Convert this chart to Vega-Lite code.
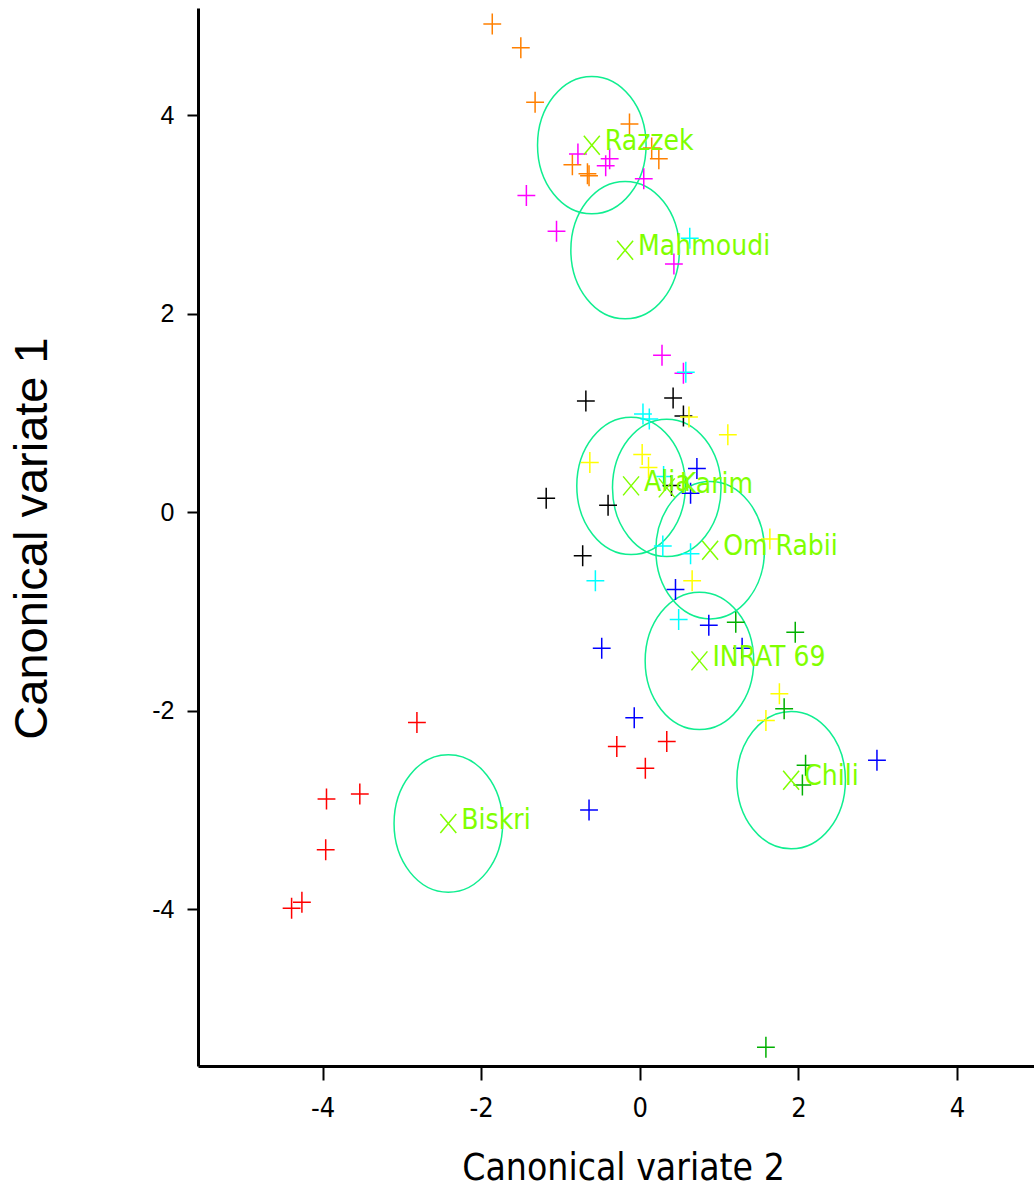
{
  "$schema": "https://vega.github.io/schema/vega-lite/v6.json",
  "width": 836,
  "height": 1058,
  "autosize": {"type": "none"},
  "padding": {"left": 198, "top": 8, "right": 0, "bottom": 125},
  "background": "white",
  "config": {"view": {"stroke": null}},
  "datasets": {
    "points": [
      {"group": "Razzek", "cv2": -1.86, "cv1": 4.92},
      {"group": "Razzek", "cv2": -1.50, "cv1": 4.68},
      {"group": "Razzek", "cv2": -1.32, "cv1": 4.13},
      {"group": "Razzek", "cv2": -0.13, "cv1": 3.91},
      {"group": "Razzek", "cv2": 0.15, "cv1": 3.67},
      {"group": "Razzek", "cv2": 0.24, "cv1": 3.56},
      {"group": "Razzek", "cv2": -0.85, "cv1": 3.50},
      {"group": "Razzek", "cv2": -0.66, "cv1": 3.41},
      {"group": "Razzek", "cv2": -0.64, "cv1": 3.39},
      {"group": "Mahmoudi", "cv2": -0.78, "cv1": 3.61},
      {"group": "Mahmoudi", "cv2": -0.38, "cv1": 3.56},
      {"group": "Mahmoudi", "cv2": -0.43, "cv1": 3.49},
      {"group": "Mahmoudi", "cv2": 0.05, "cv1": 3.36},
      {"group": "Mahmoudi", "cv2": -1.43, "cv1": 3.19},
      {"group": "Mahmoudi", "cv2": -1.05, "cv1": 2.83},
      {"group": "Mahmoudi", "cv2": 0.43, "cv1": 2.50},
      {"group": "Mahmoudi", "cv2": 0.28, "cv1": 1.58},
      {"group": "Mahmoudi", "cv2": 0.55, "cv1": 1.40},
      {"group": "Karim", "cv2": 0.63, "cv1": 2.76},
      {"group": "Karim", "cv2": 0.58, "cv1": 1.41},
      {"group": "Karim", "cv2": 0.04, "cv1": 0.99},
      {"group": "Karim", "cv2": 0.12, "cv1": 0.94},
      {"group": "Karim", "cv2": 0.30, "cv1": 0.36},
      {"group": "Karim", "cv2": 0.29, "cv1": -0.34},
      {"group": "Karim", "cv2": 0.64, "cv1": -0.42},
      {"group": "Karim", "cv2": -0.56, "cv1": -0.69},
      {"group": "Karim", "cv2": 0.49, "cv1": -1.08},
      {"group": "Alia", "cv2": -0.68, "cv1": 1.12},
      {"group": "Alia", "cv2": 0.42, "cv1": 1.15},
      {"group": "Alia", "cv2": 0.55, "cv1": 0.97},
      {"group": "Alia", "cv2": -1.18, "cv1": 0.14},
      {"group": "Alia", "cv2": -0.40, "cv1": 0.07},
      {"group": "Alia", "cv2": 0.40, "cv1": 0.27},
      {"group": "Alia", "cv2": -0.72, "cv1": -0.44},
      {"group": "Om Rabii", "cv2": 0.62, "cv1": 0.96},
      {"group": "Om Rabii", "cv2": 1.11, "cv1": 0.78},
      {"group": "Om Rabii", "cv2": -0.63, "cv1": 0.50},
      {"group": "Om Rabii", "cv2": 0.03, "cv1": 0.58},
      {"group": "Om Rabii", "cv2": 0.11, "cv1": 0.45},
      {"group": "Om Rabii", "cv2": 1.64, "cv1": -0.27},
      {"group": "Om Rabii", "cv2": 0.66, "cv1": -0.69},
      {"group": "Om Rabii", "cv2": 1.76, "cv1": -1.83},
      {"group": "Om Rabii", "cv2": 1.59, "cv1": -2.10},
      {"group": "INRAT 69", "cv2": 0.72, "cv1": 0.44},
      {"group": "INRAT 69", "cv2": 0.64, "cv1": 0.19},
      {"group": "INRAT 69", "cv2": 0.45, "cv1": -0.78},
      {"group": "INRAT 69", "cv2": 0.87, "cv1": -1.14},
      {"group": "INRAT 69", "cv2": -0.48, "cv1": -1.37},
      {"group": "INRAT 69", "cv2": 1.29, "cv1": -1.37},
      {"group": "INRAT 69", "cv2": -0.07, "cv1": -2.07},
      {"group": "INRAT 69", "cv2": -0.64, "cv1": -3.00},
      {"group": "INRAT 69", "cv2": 2.99, "cv1": -2.50},
      {"group": "Chili", "cv2": 1.21, "cv1": -1.11},
      {"group": "Chili", "cv2": 1.96, "cv1": -1.21},
      {"group": "Chili", "cv2": 1.82, "cv1": -1.98},
      {"group": "Chili", "cv2": 2.09, "cv1": -2.55},
      {"group": "Chili", "cv2": 2.05, "cv1": -2.75},
      {"group": "Chili", "cv2": 1.59, "cv1": -5.39},
      {"group": "Biskri", "cv2": -0.29, "cv1": -2.36},
      {"group": "Biskri", "cv2": 0.34, "cv1": -2.31},
      {"group": "Biskri", "cv2": 0.07, "cv1": -2.58},
      {"group": "Biskri", "cv2": -2.81, "cv1": -2.12},
      {"group": "Biskri", "cv2": -3.95, "cv1": -2.89},
      {"group": "Biskri", "cv2": -3.53, "cv1": -2.84},
      {"group": "Biskri", "cv2": -3.96, "cv1": -3.40},
      {"group": "Biskri", "cv2": -4.26, "cv1": -3.93},
      {"group": "Biskri", "cv2": -4.39, "cv1": -3.99}
    ],
    "means": [
      {"name": "Razzek", "cv2": -0.605, "cv1": 3.698},
      {"name": "Mahmoudi", "cv2": -0.185, "cv1": 2.64},
      {"name": "Alia", "cv2": -0.11, "cv1": 0.265},
      {"name": "Karim", "cv2": 0.34, "cv1": 0.245},
      {"name": "Om Rabii", "cv2": 0.887, "cv1": -0.383},
      {"name": "INRAT 69", "cv2": 0.752, "cv1": -1.498},
      {"name": "Chili", "cv2": 1.908, "cv1": -2.7},
      {"name": "Biskri", "cv2": -2.414, "cv1": -3.137}
    ]
  },
  "encoding": {
    "x": {
      "field": "cv2", "type": "quantitative",
      "scale": {"domain": [-5.57, 4.97], "nice": false, "zero": false},
      "axis": {
        "title": "Canonical variate 2",
        "values": [-4, -2, 0, 2, 4],
        "labelExpr": "toString(datum.value)",
        "grid": false,
        "domainColor": "black", "domainWidth": 3,
        "tickColor": "black", "tickWidth": 2, "tickSize": 14,
        "labelFont": "Liberation Sans Narrow, DejaVu Sans Condensed, Liberation Sans, sans-serif", "labelFontSize": 27, "labelColor": "black",
        "labelPadding": 15,
        "titleFont": "Liberation Sans Narrow, DejaVu Sans Condensed, Liberation Sans, sans-serif", "titleFontSize": 37, "titleFontWeight": "normal", "titleColor": "black",
        "titleX": 425, "titleY": 102, "titleBaseline": "middle", "titleAlign": "center"
      }
    },
    "y": {
      "field": "cv1", "type": "quantitative",
      "scale": {"domain": [-5.58, 5.08], "nice": false, "zero": false},
      "axis": {
        "title": "Canonical variate 1",
        "values": [-4, -2, 0, 2, 4],
        "labelExpr": "toString(datum.value)",
        "grid": false,
        "domainColor": "black", "domainWidth": 3,
        "tickColor": "black", "tickWidth": 2, "tickSize": 11,
        "labelFont": "Liberation Sans", "labelFontSize": 25, "labelColor": "black",
        "labelPadding": 13,
        "titleFont": "Liberation Sans", "titleFontSize": 47, "titleFontWeight": "normal", "titleColor": "black",
        "titleX": -166, "titleY": 530, "titleAngle": -90, "titleBaseline": "middle", "titleAlign": "center"
      }
    }
  },
  "layer": [
    {
      "data": {"name": "means"},
      "mark": {
        "type": "point",
        "shape": "M -0.79 0 A 0.79 1 0 1 0 0.79 0 A 0.79 1 0 1 0 -0.79 0 Z",
        "size": 18880, "filled": false, "stroke": "#10EE90", "strokeWidth": 1.5, "opacity": 1
      }
    },
    {
      "data": {"name": "points"},
      "mark": {
        "type": "point",
        "shape": "M -0.85 0 L 0.85 0 M 0 -1 L 0 1",
        "size": 441, "filled": false, "strokeWidth": 1.5, "opacity": 1
      },
      "encoding": {
        "color": {
          "field": "group", "type": "nominal", "legend": null,
          "scale": {
            "domain": ["Razzek", "Mahmoudi", "Karim", "Alia", "Om Rabii", "INRAT 69", "Chili", "Biskri"],
            "range": ["#FF8000", "#FF00FF", "#00FFFF", "#000000", "#FFFF00", "#0000FF", "#00B000", "#FF0000"]
          }
        }
      }
    },
    {
      "data": {"name": "means"},
      "mark": {
        "type": "point",
        "shape": "M -0.84 -1 L 0.84 1 M -0.84 1 L 0.84 -1",
        "size": 361, "filled": false, "stroke": "#80FF00", "strokeWidth": 1.5, "opacity": 1
      }
    },
    {
      "data": {"name": "means"},
      "mark": {
        "type": "text", "align": "left", "baseline": "middle", "dx": 13, "dy": -3,
        "font": "Liberation Sans Narrow, DejaVu Sans Condensed, Liberation Sans, sans-serif", "fontSize": 28, "color": "#80FF00"
      },
      "encoding": {"text": {"field": "name"}}
    }
  ]
}
